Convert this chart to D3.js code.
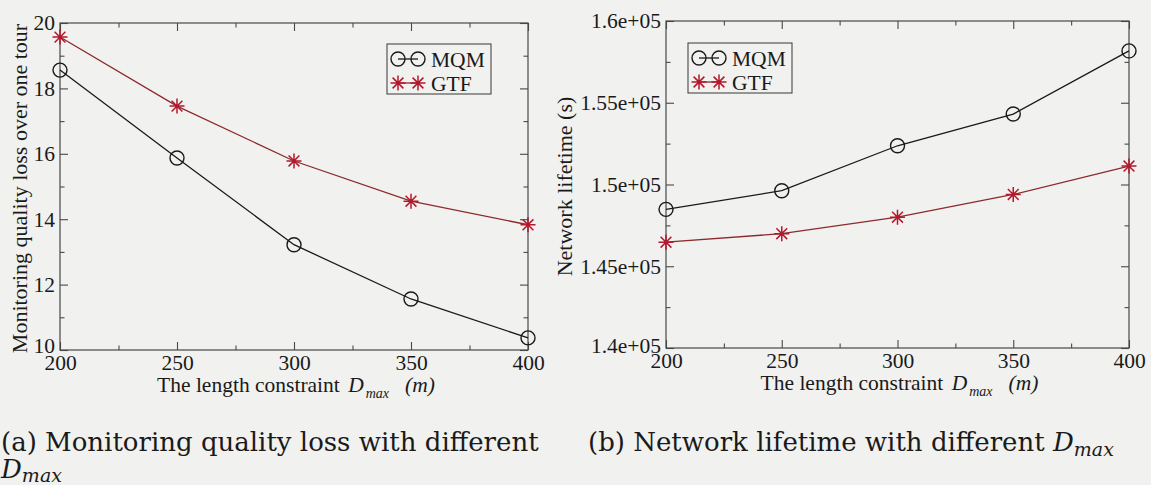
<!DOCTYPE html>
<html>
<head>
<meta charset="utf-8">
<script src="https://cdn.jsdelivr.net/npm/d3@7"></script>
<style>
  html, body { margin: 0; padding: 0; background: #f1f1ef; }
  svg { display: block; }
  text { font-family: "Liberation Serif", "Times New Roman", serif; fill: #1a1a1a; }
  .caption { font-family: "DejaVu Serif", "Liberation Serif", serif; }
</style>
</head>
<body>
<svg id="fig" width="1151" height="485"></svg>
<script>
// Path-length constraint D_max (m)
const dmax = [200, 250, 300, 350, 400];
const dmaxMinor = [225, 275, 325, 375];

// (a) Monitoring quality loss over one tour
const lossMQM = [18.56, 15.87, 13.22, 11.56, 10.37];
const lossGTF = [19.57, 17.46, 15.78, 14.55, 13.83];
const lossTicks = [10, 12, 14, 16, 18, 20];
const lossMinor = [11, 13, 15, 17, 19];

// (b) Network lifetime (s)
const lifeMQM = [148480, 149620, 152370, 154310, 158170];
const lifeGTF = [146470, 146990, 148000, 149390, 151130];
const lifeTicks = [140000, 145000, 150000, 155000, 160000];
const lifeMinor = [142500, 147500, 152500, 157500];

const seriesNames = ["MQM", "GTF"];

const ink = "#1a1a1a";
const frameInk = "#484848";
const gtfLine = "#8c2a2c";
const gtfStar = "#b3182c";

// gnuplot-style %g exponent: 1.55e+05
const sciFormat = v => {
  const s = v.toExponential();
  return s.replace(/e([+-])(\d)$/, "e$10$2");
};

// eight-armed asterisk marker
const asterisk = {
  draw(ctx, size) {
    const r = Math.sqrt(size) / 2;
    const d = r * 0.72;
    ctx.moveTo(-r, 0); ctx.lineTo(r, 0);
    ctx.moveTo(0, -r); ctx.lineTo(0, r);
    ctx.moveTo(-d, -d); ctx.lineTo(d, d);
    ctx.moveTo(-d, d); ctx.lineTo(d, -d);
  }
};
const starGen = d3.symbol().type(asterisk).size(225);

const svg = d3.select("#fig");

function drawPanel(cfg) {
  const g = svg.append("g");
  const x = d3.scaleLinear().domain([200, 400]).range([cfg.left, cfg.right]);
  const y = d3.scaleLinear().domain(cfg.yDomain).range([cfg.bottom, cfg.top]);

  const styleAxis = sel => {
    sel.attr("font-family", null).attr("font-size", null);
    sel.select(".domain").remove();
    sel.selectAll(".tick line").attr("stroke", frameInk).attr("stroke-width", 1.1);
    sel.selectAll(".tick text")
      .attr("fill", ink)
      .style("font-size", "21.5px");
  };

  // major ticks with labels (bottom, left)
  g.append("g").attr("transform", `translate(0,${cfg.bottom})`)
    .call(d3.axisBottom(x).tickValues(dmax).tickSize(-8).tickPadding(5).tickFormat(d3.format("d")))
    .call(styleAxis);
  const yAxisG = g.append("g").attr("transform", `translate(${cfg.left},0)`)
    .call(d3.axisLeft(y).tickValues(cfg.yTicks).tickSize(-8).tickPadding(5).tickFormat(cfg.yFormat))
    .call(styleAxis);
  // lift the lowest y label clear of the first x label
  yAxisG.selectAll(".tick").filter(d => d === cfg.yDomain[0]).select("text")
    .attr("transform", `translate(0,${-cfg.lowLift})`);
  // mirrored major ticks (top, right)
  g.append("g").attr("transform", `translate(0,${cfg.top})`)
    .call(d3.axisTop(x).tickValues(dmax).tickSize(-8).tickFormat(""))
    .call(styleAxis);
  g.append("g").attr("transform", `translate(${cfg.right},0)`)
    .call(d3.axisRight(y).tickValues(cfg.yTicks).tickSize(-8).tickFormat(""))
    .call(styleAxis);
  // minor ticks on all four sides
  g.append("g").attr("transform", `translate(0,${cfg.bottom})`)
    .call(d3.axisBottom(x).tickValues(dmaxMinor).tickSize(-4.5).tickFormat("")).call(styleAxis);
  g.append("g").attr("transform", `translate(0,${cfg.top})`)
    .call(d3.axisTop(x).tickValues(dmaxMinor).tickSize(-4.5).tickFormat("")).call(styleAxis);
  g.append("g").attr("transform", `translate(${cfg.left},0)`)
    .call(d3.axisLeft(y).tickValues(cfg.yMinor).tickSize(-4.5).tickFormat("")).call(styleAxis);
  g.append("g").attr("transform", `translate(${cfg.right},0)`)
    .call(d3.axisRight(y).tickValues(cfg.yMinor).tickSize(-4.5).tickFormat("")).call(styleAxis);

  // plot frame
  g.append("rect")
    .attr("x", cfg.left).attr("y", cfg.top)
    .attr("width", cfg.right - cfg.left).attr("height", cfg.bottom - cfg.top)
    .attr("fill", "none").attr("stroke", frameInk).attr("stroke-width", 1.2);

  const line = d3.line().x((d, i) => x(dmax[i])).y(d => y(d));

  // MQM: black line, open circles
  g.append("path").datum(cfg.mqm).attr("d", line)
    .attr("fill", "none").attr("stroke", ink).attr("stroke-width", 1.3);
  g.selectAll(".mqm").data(cfg.mqm).join("circle")
    .attr("cx", (d, i) => x(dmax[i])).attr("cy", d => y(d)).attr("r", 7)
    .attr("fill", "none").attr("stroke", ink).attr("stroke-width", 1.4);

  // GTF: red line, asterisks
  g.append("path").datum(cfg.gtf).attr("d", line)
    .attr("fill", "none").attr("stroke", gtfLine).attr("stroke-width", 1.3);
  g.selectAll(".gtf").data(cfg.gtf).join("path")
    .attr("transform", (d, i) => `translate(${x(dmax[i])},${y(d)})`)
    .attr("d", starGen)
    .attr("fill", "none").attr("stroke", gtfStar).attr("stroke-width", 1.5);

  // y-axis title
  g.append("text")
    .attr("transform", `translate(${cfg.yLabelX},${(cfg.top + cfg.bottom) / 2 + 2}) rotate(-90)`)
    .attr("text-anchor", "middle")
    .style("font-size", "22px")
    .text(cfg.yLabel);

  // x-axis title with subscripted D_max
  const xt = g.append("text")
    .attr("x", (cfg.left + cfg.right) / 2 + 2).attr("y", cfg.bottom + 42)
    .attr("text-anchor", "middle")
    .style("font-size", "21.5px");
  xt.append("tspan").text("The length constraint ");
  xt.append("tspan").attr("dx", 3).style("font-style", "italic").text("D");
  xt.append("tspan").attr("dy", 6).attr("dx", 2).style("font-style", "italic").style("font-size", "14px").text("max");
  xt.append("tspan").attr("dy", -6).attr("dx", 16).style("font-style", "italic").text("(m)");

  // legend
  const lg = g.append("g").attr("transform", `translate(${cfg.legendX},${cfg.legendY})`);
  lg.append("rect").attr("width", 104).attr("height", 50)
    .attr("fill", "none").attr("stroke", frameInk).attr("stroke-width", 1.1);
  const rows = lg.selectAll(".row").data(seriesNames).join("g")
    .attr("transform", (d, i) => `translate(0,${15 + i * 24})`);
  rows.append("line").attr("x1", 11).attr("x2", 31).attr("y1", 0).attr("y2", 0)
    .attr("stroke", (d, i) => i === 0 ? ink : gtfLine).attr("stroke-width", 1.3);
  rows.filter((d, i) => i === 0).selectAll("circle").data([11, 31]).join("circle")
    .attr("cx", d => d).attr("cy", 0).attr("r", 7)
    .attr("fill", "none").attr("stroke", ink).attr("stroke-width", 1.4);
  rows.filter((d, i) => i === 1).selectAll("path").data([11, 31]).join("path")
    .attr("transform", d => `translate(${d},0)`).attr("d", starGen)
    .attr("fill", "none").attr("stroke", gtfStar).attr("stroke-width", 1.5);
  rows.append("text").attr("x", 44).attr("y", 7.5)
    .style("font-size", "21.5px").text(d => d);
}

drawPanel({
  left: 60, right: 528, top: 23, bottom: 350,
  yDomain: [10, 20], yTicks: lossTicks, yMinor: lossMinor, yFormat: d3.format("d"),
  yLabel: "Monitoring quality loss over one tour", yLabelX: 27,
  mqm: lossMQM, gtf: lossGTF,
  legendX: 387, legendY: 44, lowLift: 4
});

drawPanel({
  left: 666, right: 1129, top: 21, bottom: 348,
  yDomain: [140000, 160000], yTicks: lifeTicks, yMinor: lifeMinor, yFormat: sciFormat,
  yLabel: "Network lifetime (s)", yLabelX: 572,
  mqm: lifeMQM, gtf: lifeGTF,
  legendX: 688, legendY: 43, lowLift: 2
});

// sub-figure captions
const capSize = "26px";
const subSize = "19px";
const capA = svg.append("text").attr("class", "caption").attr("x", 1).attr("y", 451).style("font-size", capSize)
  .text("(a) Monitoring quality loss with different");
const capA2 = svg.append("text").attr("class", "caption").attr("x", 1).attr("y", 478).style("font-size", capSize);
capA2.append("tspan").style("font-style", "italic").text("D");
capA2.append("tspan").attr("dy", 4).style("font-style", "italic").style("font-size", subSize).text("max");

const capB = svg.append("text").attr("class", "caption").attr("x", 588).attr("y", 451).style("font-size", capSize);
capB.append("tspan").text("(b) Network lifetime with different ");
capB.append("tspan").style("font-style", "italic").text("D");
capB.append("tspan").attr("dy", 5).style("font-style", "italic").style("font-size", subSize).text("max");
</script>
</body>
</html>
